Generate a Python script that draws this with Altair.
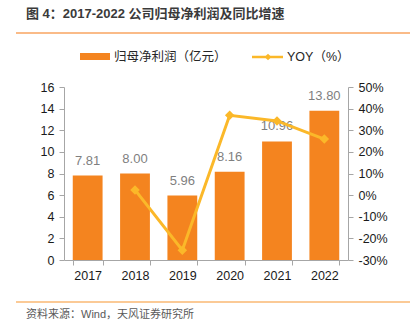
import altair as alt
import pandas as pd

years = ["2017", "2018", "2019", "2020", "2021", "2022"]
profit = [7.81, 8.00, 5.96, 8.16, 10.96, 13.80]
yoy_years = ["2018", "2019", "2020", "2021", "2022"]
yoy = [0.024, -0.255, 0.369, 0.343, 0.259]
left_ticks = [0, 2, 4, 6, 8, 10, 12, 14, 16]
right_ticks = [-0.3, -0.2, -0.1, 0, 0.1, 0.2, 0.3, 0.4, 0.5]

title_text = "图 4：2017-2022 公司归母净利润及同比增速"
source_text = "资料来源：Wind，天风证券研究所"
legend_bar = "归母净利润（亿元）"
legend_line = "YOY（%）"

FONT = "Liberation Sans, Noto Sans CJK SC, sans-serif"
BAR_C = "#F4841F"
LINE_C = "#FBB829"

df_bar = pd.DataFrame({"year": years, "profit": profit, "label": [f"{v:.2f}" for v in profit]})
df_line = pd.DataFrame({"year": yoy_years, "yoy": yoy})
one = pd.DataFrame({"a": [0]})

xscale = alt.Scale(domain=years, paddingInner=0.37, paddingOuter=0.185)
xaxis = alt.Axis(labelAngle=0, tickBand="extent", domainColor="#a6a6a6",
                 tickColor="#a6a6a6", tickSize=5, labelFontSize=12.5,
                 labelColor="#1a1a1a", labelFont=FONT, labelPadding=4)
yscale_l = alt.Scale(domain=[0, 16], nice=False)
yaxis_l = alt.Axis(values=left_ticks, grid=False, domainColor="#a6a6a6",
                   tickColor="#a6a6a6", tickSize=5, labelFontSize=12.5, labelOverlap=False,
                   labelColor="#1a1a1a", labelFont=FONT, labelPadding=5)
yscale_r = alt.Scale(domain=[-0.3, 0.5], nice=False)
yaxis_r = alt.Axis(orient="right", values=right_ticks,
                   labelExpr="round(datum.value*100) + '%'", labelOverlap=False,
                   grid=False, domainColor="#a6a6a6", tickColor="#a6a6a6", tickSize=5,
                   labelFontSize=12.5, labelColor="#1a1a1a", labelFont=FONT, labelPadding=5)

X = alt.X("year:N", scale=xscale, sort=years, title=None, axis=xaxis)

bars = alt.Chart(df_bar).mark_bar(color=BAR_C).encode(
    x=X, y=alt.Y("profit:Q", scale=yscale_l, title=None, axis=yaxis_l))
labels = alt.Chart(df_bar).mark_text(color="#7f7f7f", fontSize=13, font=FONT, dy=-11,
                                     baseline="alphabetic").encode(
    x=X, y=alt.Y("profit:Q", scale=yscale_l, title=None, axis=yaxis_l), text="label:N")
left = alt.layer(bars, labels)

line = alt.Chart(df_line).mark_line(color=LINE_C, strokeWidth=3).encode(
    x=X, y=alt.Y("yoy:Q", scale=yscale_r, title=None, axis=yaxis_r))
pts = alt.Chart(df_line).mark_point(shape="diamond", filled=True, color=LINE_C, size=90, opacity=1).encode(
    x=X, y=alt.Y("yoy:Q", scale=yscale_r, title=None, axis=yaxis_r))
right = alt.layer(line, pts)

# decorations
def txt(s, x, y, size, color, weight="normal"):
    return alt.Chart(one).mark_text(text=s, align="left", baseline="middle", fontSize=size,
                                    color=color, font=FONT, fontWeight=weight).encode(
        x=alt.value(x), y=alt.value(y))

def rule(x1, x2, y, color, w):
    return alt.Chart(one).mark_rule(color=color, strokeWidth=w).encode(
        x=alt.value(x1), x2=alt.value(x2), y=alt.value(y))

title = txt(title_text, -38, -73, 13, "#3a3a3a", "bold")
top_line = rule(-48, 346, -54, "#F8A460", 1.5)
foot_line = rule(-48, 346, 215, "#F7962F", 1.2)
foot = txt(source_text, -38, 228, 11, "#595959")
leg1_sw = alt.Chart(one).mark_rect(color=BAR_C).encode(
    x=alt.value(16), x2=alt.value(46), y=alt.value(-34), y2=alt.value(-27))
leg1_t = txt(legend_bar, 50, -30, 12.5, "#262626")
leg2_sw = rule(188, 219, -30, LINE_C, 2.5)
leg2_pt = alt.Chart(one).mark_point(shape="diamond", filled=True, color=LINE_C, size=45, opacity=1).encode(
    x=alt.value(204), y=alt.value(-30))
leg2_t = txt(legend_line, 223, -30, 12.5, "#262626")

chart = alt.layer(
    left, right, title, top_line, foot_line, foot, leg1_sw, leg1_t, leg2_sw, leg2_pt, leg2_t
).resolve_scale(y="independent").properties(
    width=284, height=173,
    autosize=alt.AutoSizeParams(type="none"),
    padding={"left": 64, "top": 87, "right": 65, "bottom": 67},
    background="white",
).configure_view(stroke=None).configure_axis(labelOverlap=False)

chart.save("out.html", embed_options={"renderer": "svg", "actions": False})
